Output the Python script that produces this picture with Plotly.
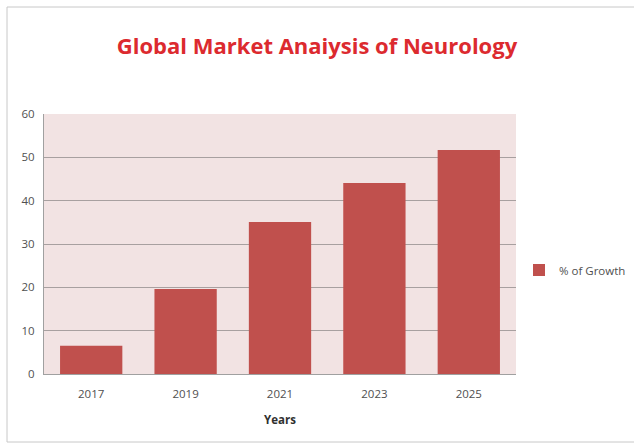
import plotly.graph_objects as go

years = ["2017", "2019", "2021", "2023", "2025"]
growth = [6.5, 19.6, 35.1, 44.1, 51.7]
y_ticks = [0, 10, 20, 30, 40, 50, 60]

fig = go.Figure()
fig.add_trace(go.Bar(
    x=years, y=growth, name="% of Growth",
    marker=dict(color="#c0504d", line=dict(width=0)),
))

fig.update_layout(
    width=634, height=446,
    margin=dict(l=44, r=118, t=114, b=72, autoexpand=False),
    paper_bgcolor="white",
    plot_bgcolor="#f2e3e3",
    bargap=0.34,
    font=dict(family="Open Sans, Liberation Sans, sans-serif", color="#505050", size=11.5),
    title=dict(text="<b>Global Market Anaiysis of Neurology</b>",
               x=0.5, xanchor="center", y=1 - 46/446, yanchor="middle",
               font=dict(size=22, color="#dc2a2f", family="Open Sans, sans-serif")),
    showlegend=True,
    legend=dict(x=(519-44)/472, y=(374-270)/260, xanchor="left", yanchor="middle",
                font=dict(size=11.5, color="#505050"), bgcolor="rgba(0,0,0,0)",
                itemwidth=30),
    xaxis=dict(showgrid=False, showline=True, linecolor="#a0a0a0", linewidth=1,
               ticks="outside", ticklen=9, tickcolor="rgba(0,0,0,0)",
               title=dict(text="<b>Years</b>", font=dict(size=11.5, color="#303030"), standoff=16)),
    yaxis=dict(range=[0, 60], tickvals=y_ticks, showgrid=True, gridcolor="#a8a0a0",
               gridwidth=1, showline=True, linecolor="#a0a0a0", linewidth=1,
               ticks="outside", ticklen=6, tickcolor="rgba(0,0,0,0)", zeroline=False),
)

fig.add_shape(type="rect", xref="paper", yref="paper",
              x0=(7-44)/472, x1=(640-44)/472, y0=(374-442)/260, y1=(374-7)/260,
              line=dict(color="#c8c8c8", width=1), fillcolor="rgba(0,0,0,0)", layer="below")

fig.write_html("out.html", post_script="document.body.style.margin='0';",
               config={"displayModeBar": False})
